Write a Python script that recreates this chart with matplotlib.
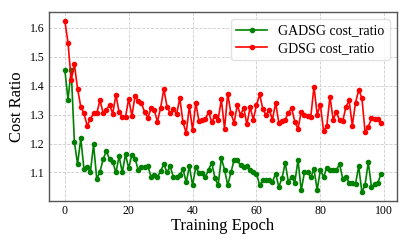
import matplotlib
matplotlib.use("Agg")
import matplotlib.pyplot as plt
import numpy as np

plt.rcParams['font.family'] = ['Liberation Serif', 'DejaVu Serif']
plt.rcParams['mathtext.fontset'] = 'stix'

# epochs 0..99
epochs = list(range(100))

# GADSG cost_ratio (green)
gadsg = [1.456, 1.352, 1.454, 1.205, 1.129, 1.218, 1.112, 1.119, 1.100, 1.197,
         1.078, 1.102, 1.146, 1.174, 1.146, 1.137, 1.100, 1.156, 1.100, 1.163,
         1.114, 1.162, 1.148, 1.107, 1.120, 1.118, 1.122, 1.085, 1.090, 1.085,
         1.105, 1.129, 1.100, 1.121, 1.084, 1.084, 1.091, 1.112, 1.066, 1.121,
         1.056, 1.119, 1.098, 1.098, 1.084, 1.110, 1.133, 1.081, 1.056, 1.149,
         1.110, 1.056, 1.100, 1.144, 1.142, 1.125, 1.120, 1.122, 1.110, 1.103,
         1.096, 1.056, 1.073, 1.073, 1.073, 1.068, 1.096, 1.050, 1.081, 1.133,
         1.066, 1.086, 1.065, 1.144, 1.038, 1.100, 1.102, 1.083, 1.112, 1.040,
         1.109, 1.084, 1.116, 1.109, 1.109, 1.107, 1.130, 1.078, 1.085, 1.065,
         1.065, 1.061, 1.121, 1.032, 1.058, 1.135, 1.050, 1.061, 1.065, 1.095]

# GDSG cost_ratio (red)
gdsg = [1.625, 1.549, 1.419, 1.474, 1.389, 1.327, 1.304, 1.262, 1.285, 1.304,
        1.304, 1.350, 1.306, 1.315, 1.335, 1.303, 1.369, 1.308, 1.292, 1.292,
        1.355, 1.295, 1.366, 1.346, 1.339, 1.309, 1.289, 1.322, 1.316, 1.276,
        1.324, 1.388, 1.328, 1.304, 1.318, 1.302, 1.357, 1.273, 1.237, 1.329,
        1.246, 1.341, 1.277, 1.283, 1.285, 1.309, 1.274, 1.297, 1.283, 1.353,
        1.251, 1.373, 1.304, 1.272, 1.333, 1.298, 1.324, 1.266, 1.326, 1.283,
        1.333, 1.370, 1.319, 1.298, 1.316, 1.283, 1.340, 1.272, 1.277, 1.283,
        1.306, 1.322, 1.276, 1.251, 1.309, 1.300, 1.295, 1.292, 1.397, 1.300,
        1.335, 1.243, 1.260, 1.362, 1.283, 1.309, 1.280, 1.277, 1.327, 1.349,
        1.262, 1.341, 1.385, 1.358, 1.239, 1.258, 1.287, 1.285, 1.285, 1.272]

fig = plt.figure(figsize=(4.1, 2.46), dpi=100)
ax = fig.add_axes([0.1195, 0.184, 0.8485, 0.767])

ax.plot(epochs, gadsg, color='green', marker='o', markersize=3, linewidth=1.2,
        label='GADSG cost_ratio')
ax.plot(epochs, gdsg, color='red', marker='o', markersize=3, linewidth=1.2,
        label='GDSG cost_ratio')

ax.set_xlabel('Training Epoch', fontsize=12, labelpad=1)
ax.set_ylabel('Cost Ratio', fontsize=12, labelpad=4)
ax.set_xticks([0, 20, 40, 60, 80, 100])
ax.set_yticks([1.1, 1.2, 1.3, 1.4, 1.5, 1.6])
ax.tick_params(labelsize=8.5, length=0, pad=3)
ax.grid(True, linestyle='--', color='#cccccc', linewidth=0.6)
for s in ax.spines.values():
    s.set_color('#555555')
    s.set_linewidth(1.0)

ax.legend(loc='upper right', fontsize=10, frameon=True, edgecolor='#dddddd',
          handlelength=2.2, borderpad=0.4, labelspacing=0.3)

plt.savefig('out.png', dpi=100)
